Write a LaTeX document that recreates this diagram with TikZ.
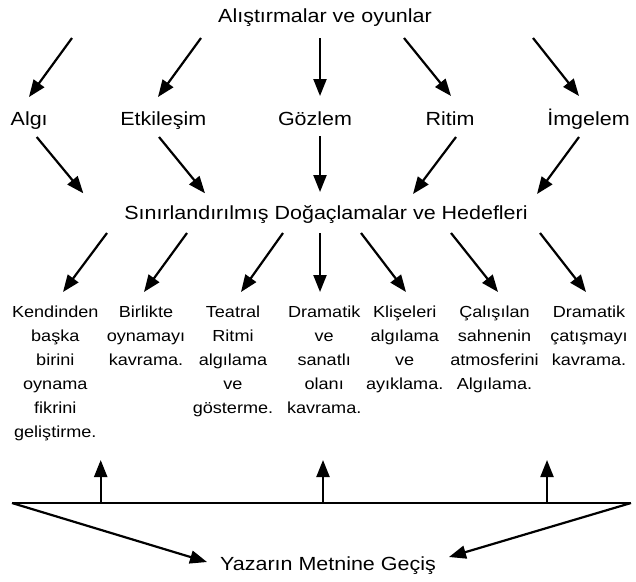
\documentclass[tikz,border=0pt]{standalone}
\usepackage{fontspec}
\setmainfont{Liberation Sans}[FakeStretch=1.13]
\usetikzlibrary{arrows.meta}
\tikzset{
  big/.style={font=\fontsize{19}{23}\selectfont, inner sep=0pt, anchor=base},
  small/.style={font=\fontsize{16}{24}\selectfont, inner sep=0pt, anchor=north, align=center},
  arr/.style={line width=2.2pt, -{Triangle[length=17pt,width=13pt]}},
  bar/.style={line width=2.2pt}
}
\begin{document}
\begin{tikzpicture}[x=1pt,y=-1pt]
\useasboundingbox (0,0) rectangle (636,581);
% texts
\node[big] (top) at (325,22.7) {Alıştırmalar ve oyunlar};
\node[big] (algi) at (29.2,125) {Algı};
\node[big] (etk) at (163.3,125) {Etkileşim};
\node[big] (goz) at (315,125) {Gözlem};
\node[big] (rit) at (450,125) {Ritim};
\node[big] (img) at (588.5,125) {İmgelem};
\node[big] (mid) at (326,219.3) {Sınırlandırılmış Doğaçlamalar ve Hedefleri};
\node[small] (c1) at (55.3,305.2) {Kendinden\\başka\\birini\\oynama\\fikrini\\geliştirme.};
\node[small] (c2) at (146,305.2) {Birlikte\\oynamayı\\kavrama.};
\node[small] (c3) at (233,305.2) {Teatral\\Ritmi\\algılama\\ve\\gösterme.};
\node[small] (c4) at (324.2,305.2) {Dramatik\\ve\\sanatlı\\olanı\\kavrama.};
\node[small] (c5) at (404.7,305.2) {Klişeleri\\algılama\\ve\\ayıklama.};
\node[small] (c6) at (494.5,305.2) {Çalışılan\\sahnenin\\atmosferini\\Algılama.};
\node[small] (c7) at (589,305.2) {Dramatik\\çatışmayı\\kavrama.};
\node[big] (yaz) at (328,570) {Yazarın Metnine Geçiş};
% arrow endpoints, row 1
\coordinate (r1a) at (72,38);   \coordinate (r1A) at (29,97);
\coordinate (r1b) at (201,38);  \coordinate (r1B) at (158,97);
\coordinate (r1c) at (320,38);  \coordinate (r1C) at (320,96);
\coordinate (r1d) at (404,38);  \coordinate (r1D) at (451,96);
\coordinate (r1e) at (533,38);  \coordinate (r1E) at (579,96);
% row 2
\coordinate (r2a) at (36.7,137); \coordinate (r2A) at (83.3,193.3);
\coordinate (r2b) at (159,137);  \coordinate (r2B) at (205,193.3);
\coordinate (r2c) at (320,136);  \coordinate (r2C) at (320,192);
\coordinate (r2d) at (456,137);  \coordinate (r2D) at (413,194);
\coordinate (r2e) at (579,137);  \coordinate (r2E) at (537,194);
% row 3
\coordinate (r3a) at (107,233);  \coordinate (r3A) at (63,292);
\coordinate (r3b) at (187,233);  \coordinate (r3B) at (144,292);
\coordinate (r3c) at (283,233);  \coordinate (r3C) at (241,292);
\coordinate (r3d) at (320,233);  \coordinate (r3D) at (320,292);
\coordinate (r3e) at (361,233);  \coordinate (r3E) at (406,292);
\coordinate (r3f) at (451,233);  \coordinate (r3F) at (498,292);
\coordinate (r3g) at (540,233);  \coordinate (r3G) at (586,292);
% bottom
\coordinate (bl) at (12,503);    \coordinate (br) at (631,503);
\coordinate (u1) at (100.7,503); \coordinate (U1) at (100.7,460);
\coordinate (u2) at (323,503);   \coordinate (U2) at (323,460);
\coordinate (u3) at (547,503);   \coordinate (U3) at (547,460);
\coordinate (dl) at (207,562);   \coordinate (dr) at (449,557);
% arrows
\foreach \s/\e in {r1a/r1A,r1b/r1B,r1c/r1C,r1d/r1D,r1e/r1E,
                   r2a/r2A,r2b/r2B,r2c/r2C,r2d/r2D,r2e/r2E,
                   r3a/r3A,r3b/r3B,r3c/r3C,r3d/r3D,r3e/r3E,r3f/r3F,r3g/r3G,
                   u1/U1,u2/U2,u3/U3,bl/dl,br/dr}
  \draw[arr] (\s) -- (\e);
\draw[bar] (bl) -- (br);
\end{tikzpicture}
\end{document}
